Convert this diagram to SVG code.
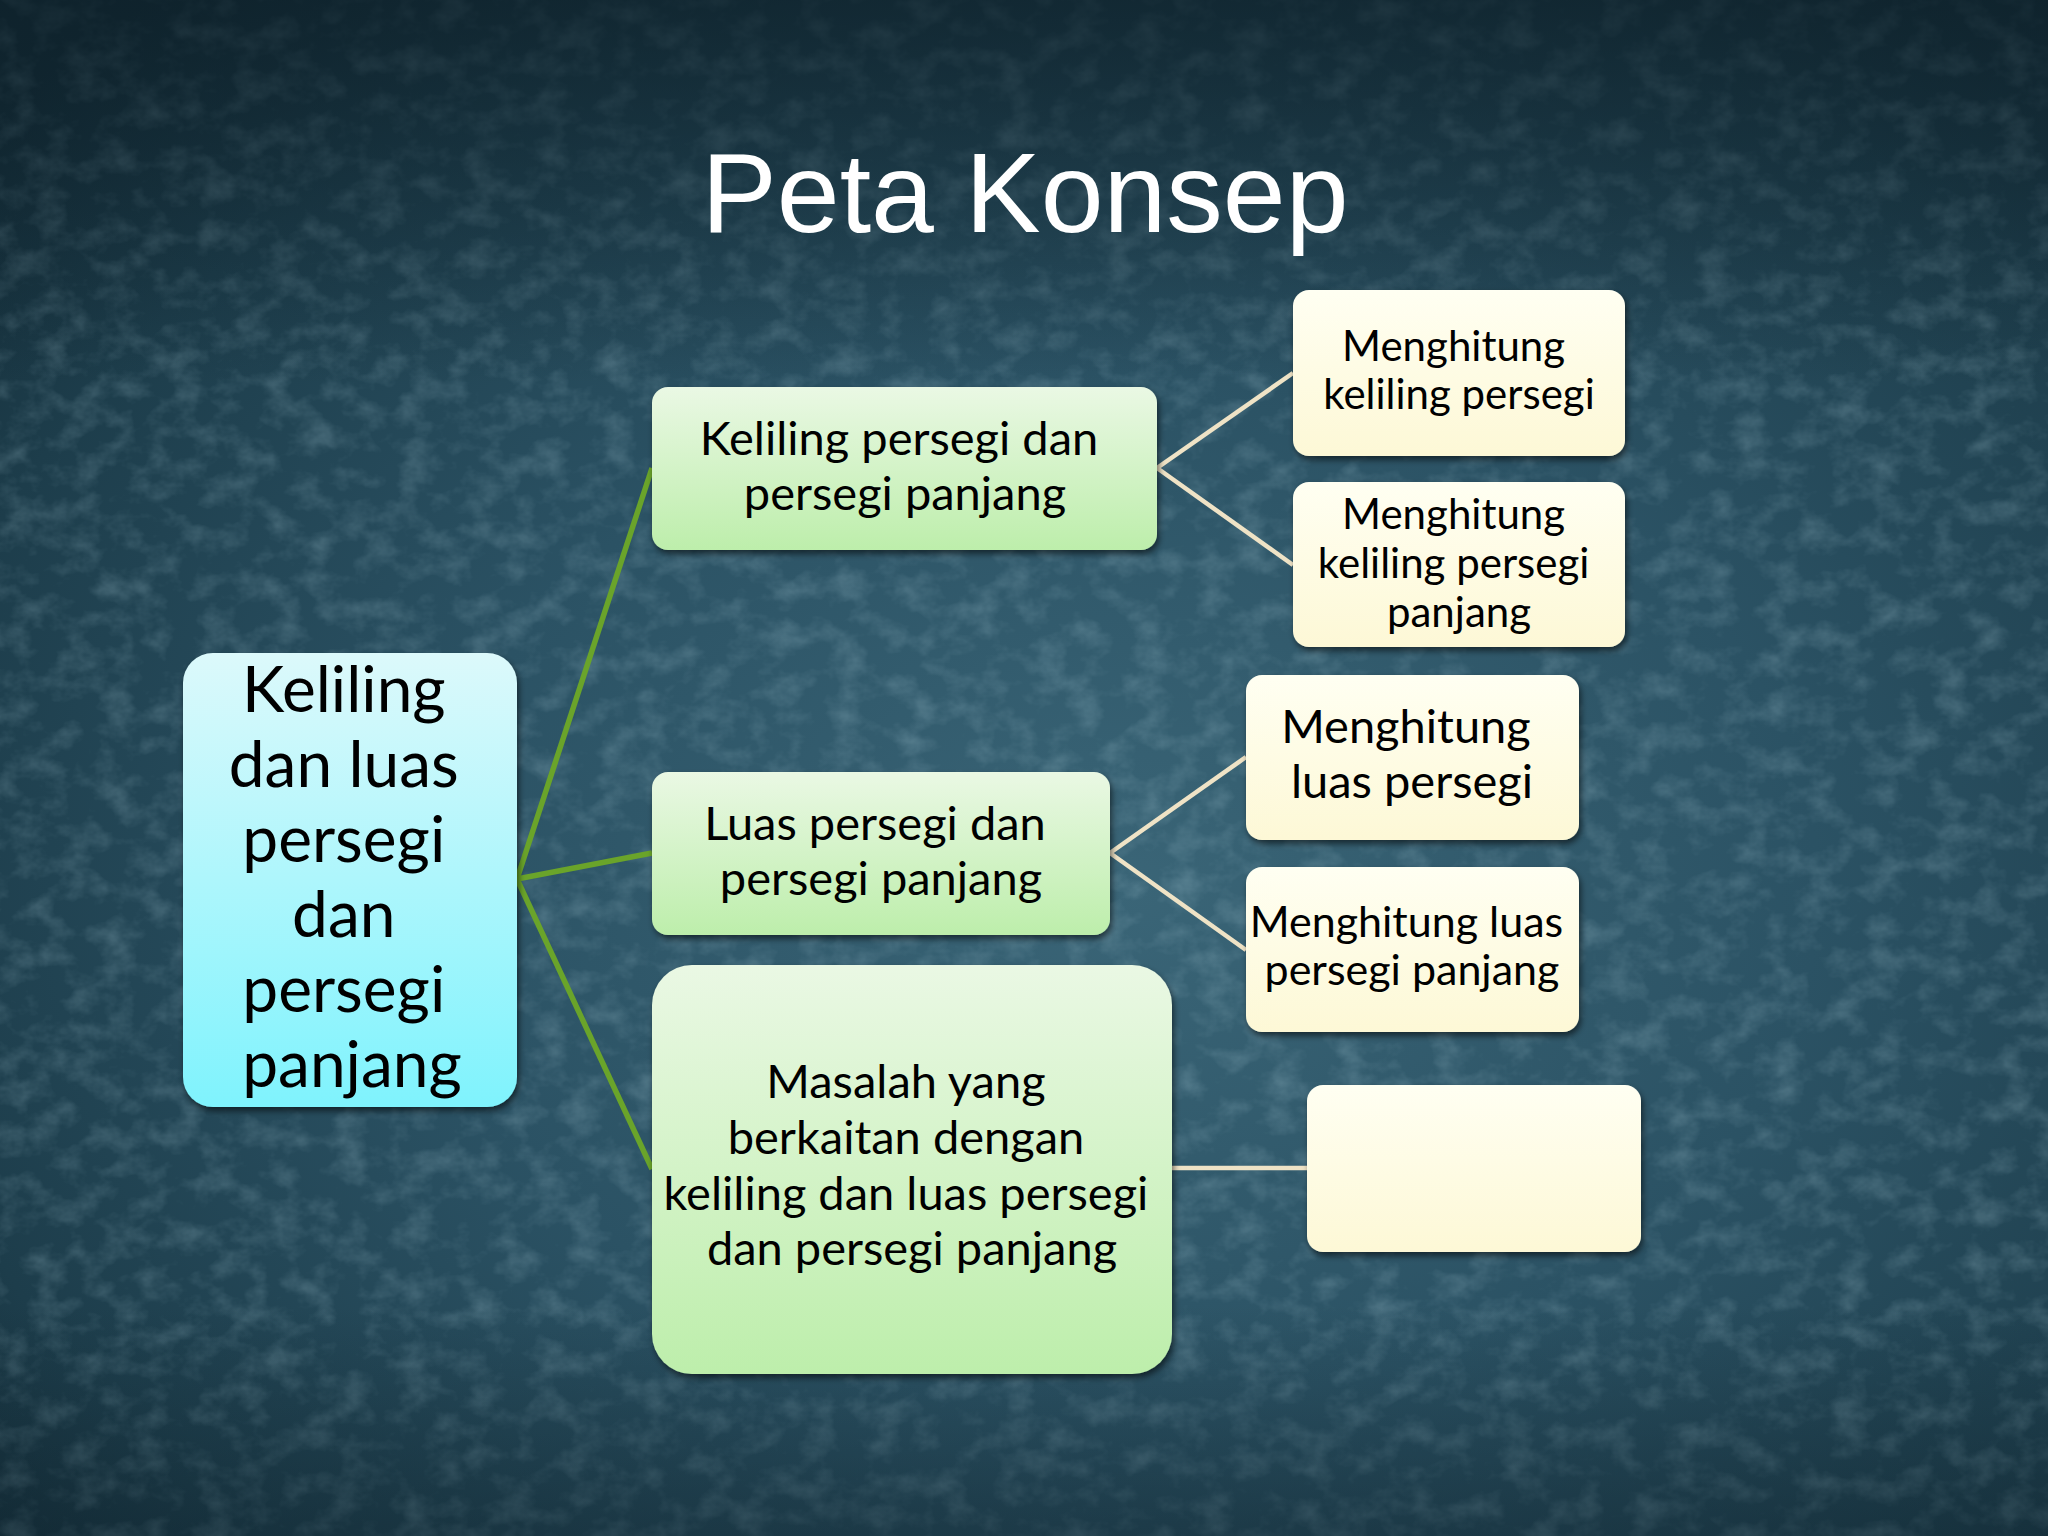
<svg xmlns="http://www.w3.org/2000/svg" width="2048" height="1536" viewBox="0 0 2048 1536">
<defs>
  <radialGradient id="bg" cx="0.55" cy="0.58" r="0.75">
    <stop offset="0" stop-color="#3a6577"/>
    <stop offset="0.45" stop-color="#2b5264"/>
    <stop offset="0.8" stop-color="#1d3d4b"/>
    <stop offset="1" stop-color="#132b36"/>
  </radialGradient>
  <linearGradient id="topdark" x1="0" y1="0" x2="0" y2="1">
    <stop offset="0" stop-color="#0d1f28" stop-opacity="0.7"/>
    <stop offset="0.25" stop-color="#0d1f28" stop-opacity="0"/>
    <stop offset="0.85" stop-color="#0d1f28" stop-opacity="0"/>
    <stop offset="1" stop-color="#0d1f28" stop-opacity="0.4"/>
  </linearGradient>
  <filter id="noise" x="0" y="0" width="100%" height="100%">
    <feTurbulence type="fractalNoise" baseFrequency="0.03 0.04" numOctaves="4" seed="7"/>
    <feColorMatrix type="matrix" values="0 0 0 0 0.42  0 0 0 0 0.62  0 0 0 0 0.7  0 0 0 1.4 -0.6"/>
  </filter>
  <filter id="shadow" x="-10%" y="-10%" width="120%" height="125%">
    <feDropShadow dx="2" dy="4" stdDeviation="3" flood-color="#000" flood-opacity="0.55"/>
  </filter>
  <linearGradient id="gCyan" x1="0" y1="0" x2="0" y2="1">
    <stop offset="0" stop-color="#dcf9fb"/>
    <stop offset="1" stop-color="#7ff3fd"/>
  </linearGradient>
  <linearGradient id="gGreen" x1="0" y1="0" x2="0" y2="1">
    <stop offset="0" stop-color="#eaf8e4"/>
    <stop offset="1" stop-color="#bdeeab"/>
  </linearGradient>
  <linearGradient id="gCream" x1="0" y1="0" x2="0" y2="1">
    <stop offset="0" stop-color="#fffff2"/>
    <stop offset="1" stop-color="#fdf8d6"/>
  </linearGradient>
  <style>
    .t { font-family: Lato, "Open Sans", sans-serif; fill: #000; text-anchor: middle; }
    .root { fill: url(#gCyan); filter: url(#shadow); }
    .mid { fill: url(#gGreen); filter: url(#shadow); }
    .leaf { fill: url(#gCream); filter: url(#shadow); }
    .cg { stroke: #6aa42a; stroke-width: 5.5; fill: none; }
    .cc { stroke: #efe3c6; stroke-width: 4.5; fill: none; }
  </style>
</defs>

<rect width="2048" height="1536" fill="url(#bg)"/>
<rect width="2048" height="1536" filter="url(#noise)" opacity="0.35"/>
<rect width="2048" height="1536" fill="url(#topdark)"/>

<text x="1025" y="232" style="font-family:'Liberation Sans',Arial,sans-serif;font-size:113px;fill:#fff;text-anchor:middle">Peta Konsep</text>

<g id="connectors">
  <line class="cg" x1="517" y1="879" x2="652" y2="468"/>
  <line class="cg" x1="517" y1="879" x2="652" y2="853"/>
  <line class="cg" x1="517" y1="879" x2="652" y2="1169"/>
  <line class="cc" x1="1157" y1="468" x2="1293" y2="373"/>
  <line class="cc" x1="1157" y1="468" x2="1293" y2="565"/>
  <line class="cc" x1="1110" y1="853" x2="1246" y2="757"/>
  <line class="cc" x1="1110" y1="853" x2="1246" y2="950"/>
  <line class="cc" x1="1172" y1="1168" x2="1307" y2="1168"/>
</g>

<g id="root">
  <rect class="root" x="183" y="653" width="334" height="454" rx="30"/>
  <text class="t" style="font-size:64px">
    <tspan x="352" y="712">Keliling</tspan>
    <tspan x="352" y="787">dan luas</tspan>
    <tspan x="352" y="862">persegi</tspan>
    <tspan x="352" y="937">dan</tspan>
    <tspan x="352" y="1012">persegi</tspan>
    <tspan x="352" y="1087">panjang</tspan>
  </text>
</g>

<g id="keliling">
  <rect class="mid" x="652" y="387" width="505" height="163" rx="16"/>
  <text class="t" style="font-size:47px">
    <tspan x="905" y="455">Keliling persegi dan</tspan>
    <tspan x="905" y="510">persegi panjang</tspan>
  </text>
</g>

<g id="luas">
  <rect class="mid" x="652" y="772" width="458" height="163" rx="16"/>
  <text class="t" style="font-size:47px">
    <tspan x="881" y="840">Luas persegi dan</tspan>
    <tspan x="881" y="895">persegi panjang</tspan>
  </text>
</g>

<g id="masalah">
  <rect class="mid" x="652" y="965" width="520" height="409" rx="40"/>
  <text class="t" style="font-size:47px">
    <tspan x="912" y="1098">Masalah yang</tspan>
    <tspan x="912" y="1154">berkaitan dengan</tspan>
    <tspan x="912" y="1210">keliling dan luas persegi</tspan>
    <tspan x="912" y="1265">dan persegi panjang</tspan>
  </text>
</g>

<g id="leaf-keliling-persegi">
  <rect class="leaf" x="1293" y="290" width="332" height="166" rx="16"/>
  <text class="t" style="font-size:42px">
    <tspan x="1459" y="361">Menghitung</tspan>
    <tspan x="1459" y="409">keliling persegi</tspan>
  </text>
</g>

<g id="leaf-keliling-pp">
  <rect class="leaf" x="1293" y="482" width="332" height="165" rx="16"/>
  <text class="t" style="font-size:42px">
    <tspan x="1459" y="529">Menghitung</tspan>
    <tspan x="1459" y="578">keliling persegi</tspan>
    <tspan x="1459" y="627">panjang</tspan>
  </text>
</g>

<g id="leaf-luas-persegi">
  <rect class="leaf" x="1246" y="675" width="333" height="165" rx="16"/>
  <text class="t" style="font-size:47px">
    <tspan x="1412" y="743">Menghitung</tspan>
    <tspan x="1412" y="798">luas persegi</tspan>
  </text>
</g>

<g id="leaf-luas-pp">
  <rect class="leaf" x="1246" y="867" width="333" height="165" rx="16"/>
  <text class="t" style="font-size:43px">
    <tspan x="1412" y="937">Menghitung luas</tspan>
    <tspan x="1412" y="985">persegi panjang</tspan>
  </text>
</g>

<g id="leaf-empty">
  <rect class="leaf" x="1307" y="1085" width="334" height="167" rx="16"/>
</g>
</svg>
